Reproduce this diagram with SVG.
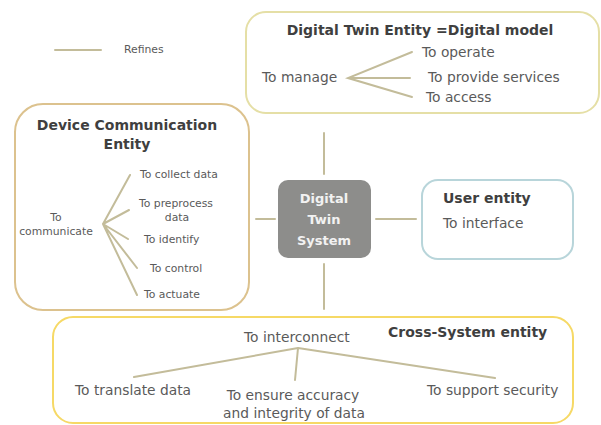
<svg xmlns="http://www.w3.org/2000/svg" width="601" height="425" viewBox="0 0 601 425">
<style>
.t{font-family:"DejaVu Sans",Verdana,sans-serif;fill:#5a5a5a;font-size:13.8px}
.s{font-family:"DejaVu Sans",Verdana,sans-serif;fill:#5a5a5a;font-size:10.8px}
.b{font-family:"DejaVu Sans",Verdana,sans-serif;fill:#3f3f3f;font-size:14px;font-weight:bold}
.w{font-family:"DejaVu Sans",Verdana,sans-serif;fill:#f2f2f2;font-size:13px;font-weight:bold}
.ln{stroke:#c3bc9a;stroke-width:2;fill:none;stroke-linecap:round}
.box{fill:#fff;stroke-width:2}
</style>
<rect width="601" height="425" fill="#fff"/>
<g id="legend">
<line class="ln" x1="55" y1="50" x2="101" y2="50"/>
<text class="s" x="124" y="53">Refines</text>
</g>
<g id="digital-twin-entity">
<rect class="box" x="246" y="12" width="353" height="101" rx="20" stroke="#e5dfa6"/>
<text class="b" x="420" y="35" text-anchor="middle">Digital Twin Entity =Digital model</text>
<text class="t" x="262" y="82">To manage</text>
<path class="ln" d="M412,52 L348,78 L412,97 M348,78 L410,78"/>
<text class="t" x="422" y="57">To operate</text>
<text class="t" x="428" y="82">To provide services</text>
<text class="t" x="426" y="102">To access</text>
</g>
<g id="device-communication-entity">
<rect class="box" x="15" y="104" width="234" height="206" rx="28" stroke="#dcc28e"/>
<text class="b" x="127" y="130" text-anchor="middle">Device Communication</text>
<text class="b" x="127" y="149" text-anchor="middle">Entity</text>
<text class="s" x="56" y="221" text-anchor="middle">To</text>
<text class="s" x="56" y="235" text-anchor="middle">communicate</text>
<path class="ln" d="M103,224 L130,175 M103,224 L129,210 M103,224 L128,239 M103,224 L137,268 M103,224 L137,295"/>
<text class="s" x="140" y="178">To collect data</text>
<text class="s" x="139" y="207">To preprocess</text>
<text class="s" x="177" y="221" text-anchor="middle">data</text>
<text class="s" x="144" y="243">To identify</text>
<text class="s" x="150" y="272">To control</text>
<text class="s" x="144" y="298">To actuate</text>
</g>
<g id="digital-twin-system">
<rect x="278" y="180" width="93" height="78" rx="10" fill="#8d8d8b"/>
<text class="w" x="324" y="203" text-anchor="middle">Digital</text>
<text class="w" x="324" y="224" text-anchor="middle">Twin</text>
<text class="w" x="324" y="245" text-anchor="middle">System</text>
</g>
<g id="user-entity">
<rect class="box" x="422" y="180" width="151" height="79" rx="16" stroke="#b8d5da"/>
<text class="b" x="443" y="203">User entity</text>
<text class="t" x="443" y="228">To interface</text>
</g>
<g id="cross-system-entity">
<rect class="box" x="53" y="317" width="520" height="106" rx="20" stroke="#f6d966"/>
<text class="t" x="244" y="342">To interconnect</text>
<text class="b" x="388" y="337">Cross-System entity</text>
<path class="ln" d="M298,348 L134,377 M298,348 L295,380 M298,348 L495,378"/>
<text class="t" x="75" y="395">To translate data</text>
<text class="t" x="293" y="400" text-anchor="middle">To ensure accuracy</text>
<text class="t" x="294" y="418" text-anchor="middle">and integrity of data</text>
<text class="t" x="427" y="395">To support security</text>
</g>
<g id="connectors">
<line class="ln" x1="324" y1="133" x2="324" y2="174"/>
<line class="ln" x1="324" y1="264" x2="324" y2="309"/>
<line class="ln" x1="256" y1="219" x2="275" y2="219"/>
<line class="ln" x1="376" y1="219" x2="416" y2="219"/>
</g>
</svg>
